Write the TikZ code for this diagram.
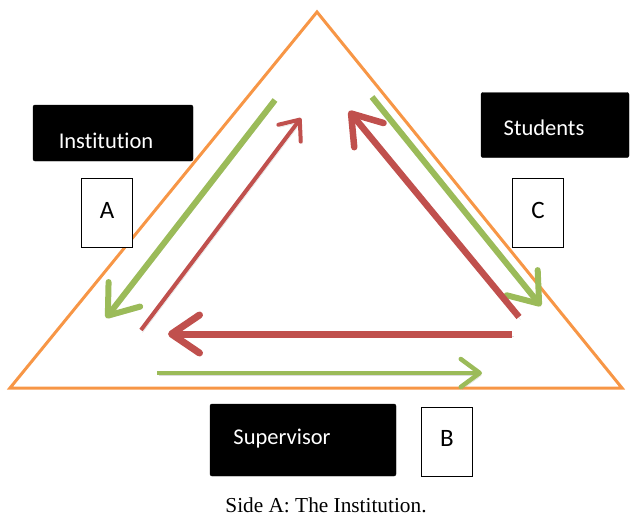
\documentclass[tikz,border=0pt]{standalone}
\usepackage{fontspec}
\setmainfont{Liberation Serif}
\newfontfamily\calib[Ligatures=NoCommon]{Carlito}
\usetikzlibrary{arrows.meta}
\definecolor{offorange}{RGB}{247,150,70}
\definecolor{offgreen}{RGB}{155,187,89}
\definecolor{offred}{RGB}{192,80,77}
\tikzset{
  blackbox/.style={draw=black, fill=black, rounded corners=2pt, inner sep=0pt},
  whitebox/.style={draw=black, line width=1pt, fill=white, inner sep=0pt},
  boxtext/.style={text=white, font=\calib\fontsize{22.5}{26}\selectfont, inner sep=0pt},
  lettertext/.style={font=\calib\fontsize{25}{30}\selectfont, inner sep=0pt},
  greenarrow/.style={draw=offgreen, line width=6pt, -{Straight Barb[length=27pt,width=40pt,round]}},
  greenthin/.style={draw=offgreen, line width=4.5pt, -{Straight Barb[length=19pt,width=28pt,round]}},
  redthin/.style={draw=offred, line width=4pt, -{Straight Barb[length=17pt,width=28pt,round]}},
  redthick/.style={draw=offred, line width=7pt, -{Straight Barb[length=28pt,width=38pt,round]}},
  shadowed/.style={preaction={draw=black!40, opacity=0.35, transform canvas={shift={(1.5pt,-2.5pt)}}}},
}
\begin{document}
\begin{tikzpicture}[x=1pt,y=-1pt]
\useasboundingbox (0,0) rectangle (630,517);
% triangle
\coordinate (top) at (317,12);
\coordinate (bl) at (10,388);
\coordinate (br) at (622,388);
\draw[offorange, line width=3pt, line join=miter] (top) -- (bl) -- (br) -- cycle;
% boxes
\node[blackbox, minimum width=160pt, minimum height=56pt] (instbox) at (113,133) {};
\node[boxtext] (inst) at (106,141) {Institution};
\node[blackbox, minimum width=148pt, minimum height=65pt] (studbox) at (555,125) {};
\node[boxtext] (stud) at (544,128) {Students};
\node[blackbox, minimum width=186pt, minimum height=72pt] (supbox) at (303,440) {};
\node[boxtext] (sup) at (282,439) {Supervisor};
\node[whitebox, minimum width=51pt, minimum height=69pt] (boxA) at (106.5,212.5) {};
\node[lettertext] (A) at (107,210) {A};
\node[whitebox, minimum width=51pt, minimum height=69pt] (boxC) at (537.5,212.5) {};
\node[lettertext] (C) at (538,210) {C};
\node[whitebox, minimum width=51pt, minimum height=69pt] (boxB) at (446.5,441.5) {};
\node[lettertext] (B) at (447,438) {B};
% arrow endpoints
\coordinate (g1s) at (275,100);
\coordinate (g1e) at (106,318);
\coordinate (r1s) at (141,330);
\coordinate (r1e) at (301,118);
\coordinate (r2s) at (512,334);
\coordinate (r2e) at (168,334);
\coordinate (g2s) at (157,373);
\coordinate (g2e) at (482,373);
\coordinate (g3s) at (372,97);
\coordinate (g3e) at (541,306);
\coordinate (r3s) at (519,317);
\coordinate (r3e) at (349,111);
% arrows
\draw[greenarrow, shadowed] (g1s) -- (g1e);
\draw[redthin, shadowed] (r1s) -- (r1e);
\draw[redthick, shadowed] (r2s) -- (r2e);
\draw[greenthin, shadowed] (g2s) -- (g2e);
\draw[greenarrow, shadowed] (g3s) -- (g3e);
\draw[redthick, line width=6.5pt, shadowed] (r3s) -- (r3e);
% caption
\node[font=\fontsize{21.3}{25}\selectfont, inner sep=0pt, anchor=base] (cap) at (326,512) {Side A: The Institution.};
\end{tikzpicture}
\end{document}
